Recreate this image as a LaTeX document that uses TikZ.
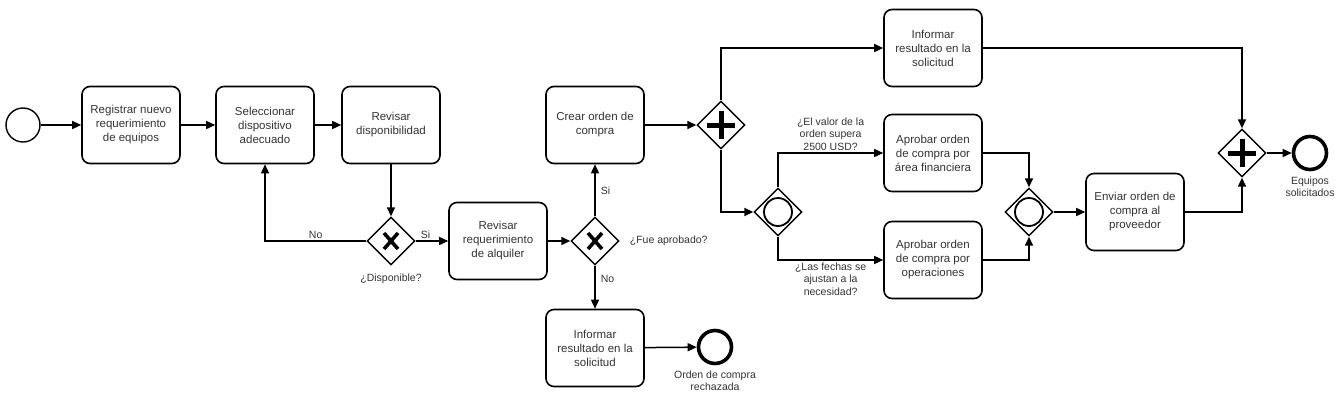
\documentclass[tikz,border=0pt]{standalone}
\usepackage{fontspec}
\setmainfont{Liberation Sans}
\usetikzlibrary{shapes.geometric, arrows.meta}

\tikzset{
  task/.style={draw, rounded corners=8pt, line width=1.6pt, minimum width=98pt,
    minimum height=77pt, align=center, inner sep=2pt, text=black!80,
    font=\fontsize{11.5}{14}\selectfont},
  lbl/.style={align=center, text=black!80, inner sep=2pt,
    font=\fontsize{10.5}{12.5}\selectfont},
  startev/.style={draw, circle, minimum size=34pt, inner sep=0pt, line width=1.4pt},
  endev/.style={draw, circle, minimum size=33pt, inner sep=0pt, line width=3.6pt},
  gw/.style={draw, diamond, aspect=1, minimum width=48pt, minimum height=48pt,
    inner sep=0pt, line width=1.4pt},
  xorgw/.style={gw, path picture={
    \draw[line width=3.6pt]
      ([shift={(-7pt,-8pt)}]path picture bounding box.center) --
      ([shift={(7pt,8pt)}]path picture bounding box.center)
      ([shift={(-7pt,8pt)}]path picture bounding box.center) --
      ([shift={(7pt,-8pt)}]path picture bounding box.center);}},
  andgw/.style={gw, path picture={
    \draw[line width=5pt]
      ([xshift=-14pt]path picture bounding box.center) --
      ([xshift=14pt]path picture bounding box.center)
      ([yshift=-14pt]path picture bounding box.center) --
      ([yshift=14pt]path picture bounding box.center);}},
  orgw/.style={gw, path picture={
    \draw[line width=1.8pt] (path picture bounding box.center) circle[radius=14pt];}},
  flow/.style={-{Triangle[length=9pt,width=8pt]}, line width=1.5pt}
}

\begin{document}
\begin{tikzpicture}[x=1pt, y=-1pt]
\useasboundingbox (0,0) rectangle (1339,400);

% primera parte
\node[startev] (inicio) at (23,125) {};
\node[task] (registrar) at (131,125) {Registrar nuevo\\requerimiento\\de equipos};
\node[task] (seleccionar) at (265,125) {Seleccionar\\dispositivo\\adecuado};
\node[task] (revisar) at (391,125) {Revisar\\disponibilidad};
\node[xorgw] (disponible) at (391,241) {};
\node[lbl, below=6pt] (txtdisponible) at (disponible.south) {¿Disponible?};
\node[task] (alquiler) at (498,241) {Revisar\\requerimiento\\de alquiler};
\node[xorgw] (aprobado) at (595,241) {};
\node[lbl, right=8pt] (txtaprobado) at (aprobado.east) {¿Fue aprobado?};
\node[task] (crear) at (595,125) {Crear orden de\\compra};
\node[task] (informarno) at (595,348) {Informar\\resultado en la\\solicitud};
\node[endev] (rechazo) at (715,347) {};
\node[lbl, below=3pt] (txtrechazo) at (rechazo.south) {Orden de compra\\rechazada};

% orden de compra
\node[andgw] (par1) at (721,125) {};
\node[task] (informar) at (933,48) {Informar\\resultado en la\\solicitud};
\node[orgw] (incl1) at (778,212) {};
\node[task] (financiera) at (933,153) {Aprobar orden\\de compra por\\área financiera};
\node[task] (operaciones) at (933,260) {Aprobar orden\\de compra por\\operaciones};
\node[orgw] (incl2) at (1029,212) {};
\node[task] (enviar) at (1135,212) {Enviar orden de\\compra al\\proveedor};
\node[andgw] (par2) at (1242,153) {};
\node[endev] (fin) at (1310,153) {};
\node[lbl, below=3pt] (txtfin) at (fin.south) {Equipos\\solicitados};

% flujos
\draw[flow] (inicio) -- (registrar);
\draw[flow] (registrar) -- (seleccionar);
\draw[flow] (seleccionar) -- (revisar);
\draw[flow] (revisar) -- (disponible);
\draw[flow] (disponible) -- node[lbl, above, pos=0.3] {Si} (alquiler);
\draw[flow] (disponible) -| node[lbl, above, pos=0.25] {No} (seleccionar);
\draw[flow] (alquiler) -- (aprobado);
\draw[flow] (aprobado) -- node[lbl, right=3pt] {Si} (crear);
\draw[flow] (aprobado) -- node[lbl, right=3pt, pos=0.3] {No} (informarno);
\draw[flow] (informarno) -- (rechazo);
\draw[flow] (crear) -- (par1);
\draw[flow] (par1) |- (informar);
\draw[flow] (par1) |- (incl1);
\draw[flow] (incl1) |- node[lbl, above, pos=0.75] {¿El valor de la\\orden supera\\2500 USD?} (financiera);
\draw[flow] (incl1) |- node[lbl, below, pos=0.75] {¿Las fechas se\\ajustan a la\\necesidad?} (operaciones);
\draw[flow] (financiera) -| (incl2);
\draw[flow] (operaciones) -| (incl2);
\draw[flow] (incl2) -- (enviar);
\draw[flow] (informar) -| (par2);
\draw[flow] (enviar) -| (par2);
\draw[flow] (par2) -- (fin);
\end{tikzpicture}
\end{document}
